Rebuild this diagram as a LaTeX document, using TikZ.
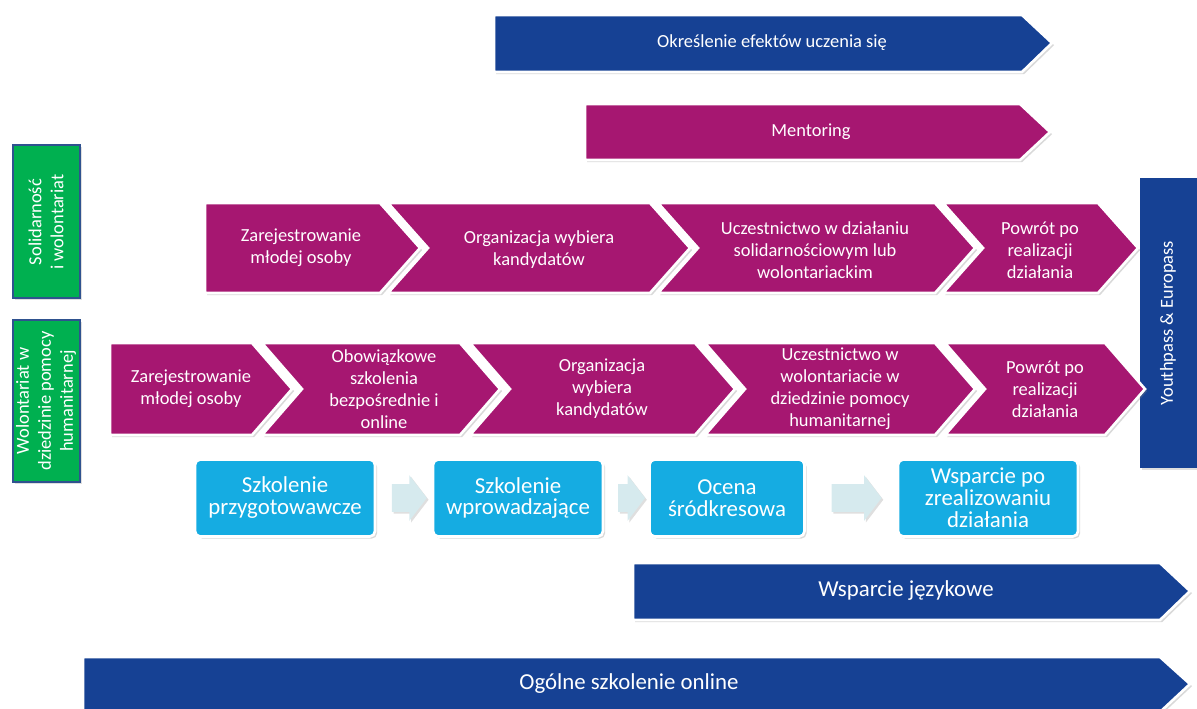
\documentclass[tikz,border=0pt]{standalone}
\usepackage{fontspec}
\setmainfont{Carlito}
\usetikzlibrary{shadows,shapes.arrows,calc}
\definecolor{granat}{RGB}{22,65,148}
\definecolor{purpura}{RGB}{166,23,113}
\definecolor{zielony}{RGB}{0,176,80}
\definecolor{obwodka}{RGB}{47,82,143}
\definecolor{blekit}{RGB}{21,172,226}
\definecolor{jasny}{RGB}{214,234,238}
\begin{document}
\begin{tikzpicture}[x=0.02cm, y=-0.02cm,
	ksztalt/.style={draw=white, line width=1.5pt, drop shadow={opacity=0.3, shadow xshift=1.2pt, shadow yshift=-1.2pt}},
	napis/.style={text=white, align=center, font=\fontsize{10.5}{12.5}\selectfont},
	duzy/.style={text=white, align=center, font=\fontsize{13}{13}\selectfont},
	pole/.style={ksztalt, fill=blekit, rounded corners=3pt, inner sep=1pt, minimum height=1.54cm, text=white, align=center, font=\fontsize{13}{12.5}\selectfont},
	blok/.style={single arrow, fill=jasny, inner xsep=0pt, inner ysep=0.27cm, single arrow tip angle=105, single arrow head extend=0.18cm, drop shadow={opacity=0.25, shadow xshift=1pt, shadow yshift=-1pt}}]
	\useasboundingbox (0,0) rectangle (1197,708);
	%określenie efektów uczenia się
	\draw[ksztalt, fill=granat](494,15)--(1022,15)--(1052,43)--(1022,72)--(494,72)--cycle;
	\node[napis] (efekty) at (772,43) {Określenie efektów uczenia się};
	%mentoring
	\draw[ksztalt, fill=purpura](585,104)--(1020,104)--(1050,132)--(1020,160)--(585,160)--cycle;
	\node[napis] (mentoring) at (811,132) {Mentoring};
	%zielone pola
	\draw[fill=zielony, draw=obwodka, line width=0.6pt, drop shadow={opacity=0.25, shadow xshift=1pt, shadow yshift=-1pt}](13,145) rectangle (80,298);
	\node[napis, rotate=90] (solidarnosc) at (46,222) {Solidarność\\i wolontariat};
	\draw[fill=zielony, draw=obwodka, line width=0.6pt, drop shadow={opacity=0.25, shadow xshift=1pt, shadow yshift=-1pt}](13,320) rectangle (80,482);
	\node[napis, rotate=90] (humanitarny) at (46,401) {Wolontariat w\\dziedzinie pomocy\\humanitarnej};
	%youthpass
	\fill[granat, drop shadow={opacity=0.25, shadow xshift=1pt, shadow yshift=-1pt}](1140,178) rectangle (1200,468);
	\node[napis, rotate=90] (youthpass) at (1168,323) {Youthpass \& Europass};
	%wiersz 1
	\draw[ksztalt, fill=purpura](205,203)--(380,203)--(420,248)--(380,293)--(205,293)--cycle;
	\draw[ksztalt, fill=purpura](388,203)--(650,203)--(690,248)--(650,293)--(388,293)--(428,248)--cycle;
	\draw[ksztalt, fill=purpura](658,203)--(935,203)--(975,248)--(935,293)--(658,293)--(698,248)--cycle;
	\draw[ksztalt, fill=purpura](943,203)--(1098,203)--(1138,248)--(1098,293)--(943,293)--(983,248)--cycle;
	\node[napis] (r1a) at (301,248) {Zarejestrowanie\\młodej osoby};
	\node[napis] (r1b) at (539,250) {Organizacja wybiera\\kandydatów};
	\node[napis] (r1c) at (815,250) {Uczestnictwo w działaniu\\solidarnościowym lub\\wolontariackim};
	\node[napis] (r1d) at (1040,250) {Powrót po\\realizacji\\działania};
	%wiersz 2
	\draw[ksztalt, fill=purpura](110,343)--(252,343)--(292,389)--(252,435)--(110,435)--cycle;
	\draw[ksztalt, fill=purpura](262,343)--(460,343)--(500,389)--(460,435)--(262,435)--(302,389)--cycle;
	\draw[ksztalt, fill=purpura](470,343)--(695,343)--(735,389)--(695,435)--(470,435)--(510,389)--cycle;
	\draw[ksztalt, fill=purpura](705,343)--(935,343)--(975,389)--(935,435)--(705,435)--(745,389)--cycle;
	\draw[ksztalt, fill=purpura](945,343)--(1105,343)--(1145,389)--(1105,435)--(945,435)--(985,389)--cycle;
	\node[napis] (r2a) at (191,389) {Zarejestrowanie\\młodej osoby};
	\node[napis] (r2b) at (384,389) {Obowiązkowe\\szkolenia\\bezpośrednie i\\online};
	\node[napis] (r2c) at (602,389) {Organizacja\\wybiera\\kandydatów};
	\node[napis] (r2d) at (840,389) {Uczestnictwo w\\wolontariacie w\\dziedzinie pomocy\\humanitarnej};
	\node[napis] (r2e) at (1045,389) {Powrót po\\realizacji\\działania};
	%szkolenia
	\node[pole, minimum width=3.6cm] (b1) at (285,498) {Szkolenie\\przygotowawcze};
	\node[pole, minimum width=3.4cm] (b2) at (518,498) {Szkolenie\\wprowadzające};
	\node[pole, minimum width=3.1cm] (b3) at (727,498) {Ocena\\śródkresowa};
	\node[pole, minimum width=3.6cm] (b4) at (988,498) {Wsparcie po\\zrealizowaniu\\działania};
	\node[blok, minimum height=0.7cm] (s1) at ($(b1.east)!0.5!(b2.west)$) {};
	\node[blok, minimum height=0.54cm] (s2) at ($(b2.east)!0.5!(b3.west)$) {};
	\node[blok, minimum height=1.0cm] (s3) at ($(b3.east)!0.5!(b4.west)$) {};
	%wsparcie językowe
	\draw[ksztalt, fill=granat](633,563)--(1160,563)--(1190,591)--(1160,620)--(633,620)--cycle;
	\node[duzy] (jezyk) at (906,591) {Wsparcie językowe};
	%ogólne szkolenie online
	\draw[ksztalt, fill=granat](83,657)--(1160,657)--(1190,684)--(1160,712)--(83,712)--cycle;
	\node[duzy] (online) at (629,684) {Ogólne szkolenie online};
\end{tikzpicture}
\end{document}
